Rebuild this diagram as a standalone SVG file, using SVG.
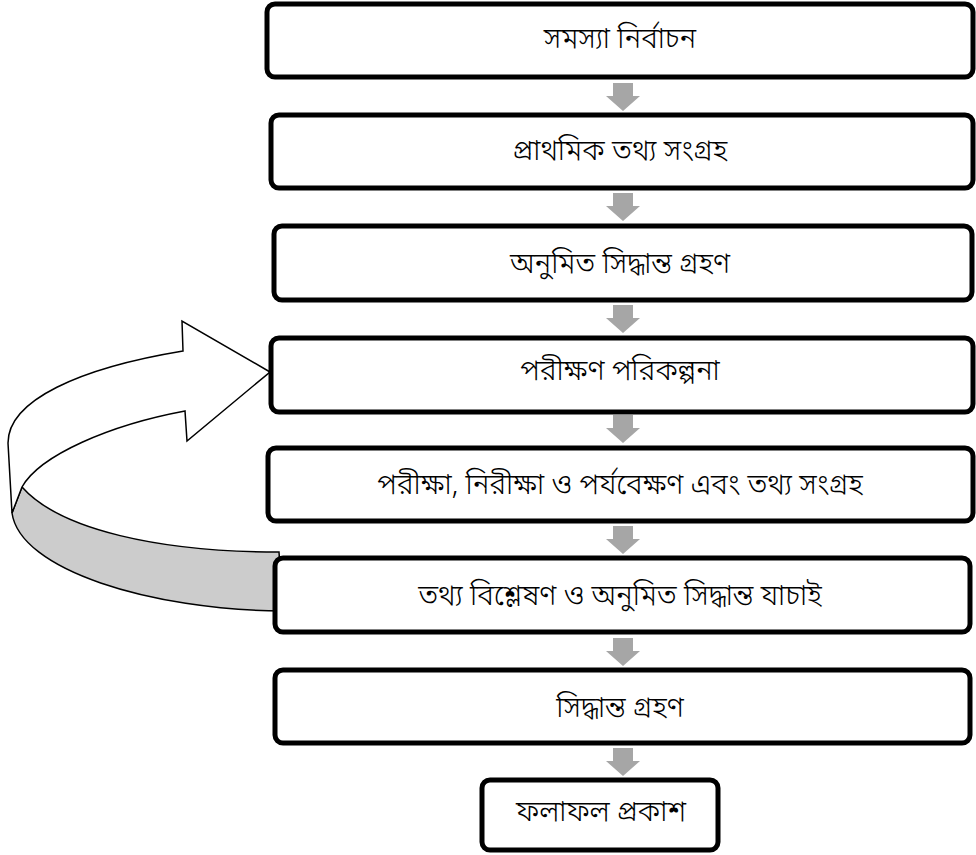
<svg xmlns="http://www.w3.org/2000/svg" width="976" height="855" viewBox="0 0 976 855">
  <style>
    .box { fill: #ffffff; stroke: #000000; stroke-width: 5; }
    .lbl { font-family: "Noto Sans Bengali", "Lohit Bengali", "FreeSerif", "Noto Sans", sans-serif; font-size: 28.5px; font-weight: 300; fill: #000000; text-anchor: middle; dominant-baseline: central; }
    .down { fill: #a6a6a6; }
    .ribbon { fill: #ffffff; stroke: #000000; stroke-width: 1.5; stroke-linejoin: miter; }
    .under { fill: #cccccc; stroke: #000000; stroke-width: 1.5; }
  </style>
  <defs>
    <path id="dn" d="M -10,0 H 10 V 13 H 17 L 0,28 L -17,13 H -10 Z"/>
  </defs>
  <rect width="976" height="855" fill="#ffffff"/>

  <!-- feedback loop: analysis back to experiment planning -->
  <g id="loop">
    <path class="under" d="M 22,487 C 60,530 160,552 279,552 L 283,611 C 150,610 20,570 12,513 Z"/>
    <path class="ribbon" d="M 270,372 L 182,321 L 183,351 C 80,368 8,400 8,443 L 12,513 L 22,487 C 40,455 110,425 185,411 L 187,441 Z"/>
  </g>

  <!-- process steps -->
  <g id="n1">
    <rect class="box" x="267" y="4" width="706" height="73" rx="8"/>
    <text class="lbl" x="620" y="41">সমস্যা নির্বাচন</text>
  </g>
  <g id="n2">
    <rect class="box" x="271" y="115" width="702" height="73" rx="8"/>
    <text class="lbl" x="620" y="153">প্রাথমিক তথ্য সংগ্রহ</text>
  </g>
  <g id="n3">
    <rect class="box" x="274" y="226" width="698" height="74" rx="8"/>
    <text class="lbl" x="620" y="266">অনুমিত সিদ্ধান্ত গ্রহণ</text>
  </g>
  <g id="n4">
    <rect class="box" x="271" y="338" width="702" height="74" rx="8"/>
    <text class="lbl" x="620" y="373">পরীক্ষণ পরিকল্পনা</text>
  </g>
  <g id="n5">
    <rect class="box" x="268" y="448" width="705" height="73" rx="8"/>
    <text class="lbl" x="620" y="487">পরীক্ষা, নিরীক্ষা ও পর্যবেক্ষণ এবং তথ্য সংগ্রহ</text>
  </g>
  <g id="n6">
    <rect class="box" x="275" y="558" width="695" height="74" rx="8"/>
    <text class="lbl" x="620" y="598">তথ্য বিশ্লেষণ ও অনুমিত সিদ্ধান্ত যাচাই</text>
  </g>
  <g id="n7">
    <rect class="box" x="275" y="670" width="695" height="73" rx="8"/>
    <text class="lbl" x="620" y="710">সিদ্ধান্ত গ্রহণ</text>
  </g>
  <g id="n8">
    <rect class="box" x="482" y="780" width="236" height="70" rx="8"/>
    <text class="lbl" x="601" y="814">ফলাফল প্রকাশ</text>
  </g>

  <!-- step-to-step connectors -->
  <g id="connectors">
    <use href="#dn" class="down" x="623" y="83"/>
    <use href="#dn" class="down" x="623" y="193"/>
    <use href="#dn" class="down" x="623" y="305"/>
    <use href="#dn" class="down" x="623" y="415"/>
    <use href="#dn" class="down" x="623" y="526"/>
    <use href="#dn" class="down" x="623" y="638"/>
    <use href="#dn" class="down" x="623" y="748"/>
  </g>
</svg>
